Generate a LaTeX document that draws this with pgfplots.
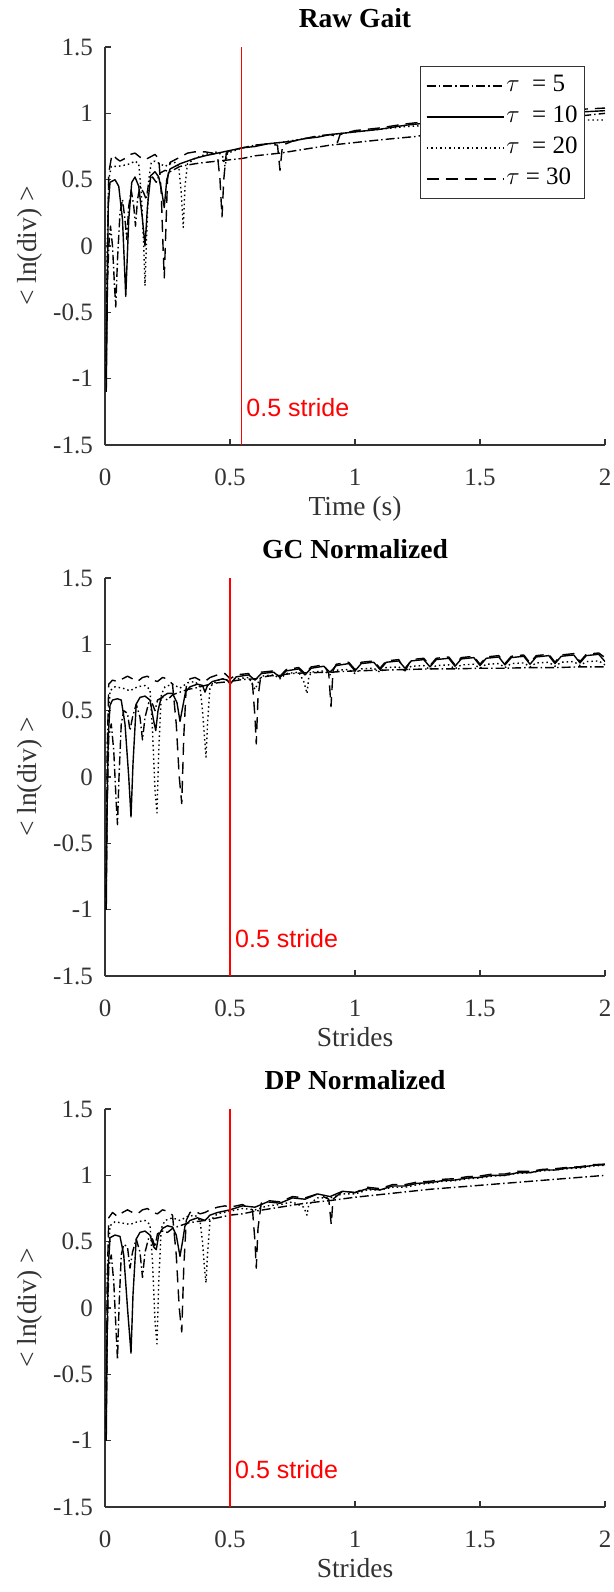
\documentclass[border=0pt]{standalone}
\usepackage{fontspec}
\setmainfont{Liberation Serif}
\newfontfamily\arialfont{Liberation Sans}
\usepackage{pgfplots}
\pgfplotsset{compat=1.18}
\pgfplotsset{
  myax/.style={
    scale only axis, width=500pt, height=398pt,
    xmin=0, xmax=2, ymin=-1.5, ymax=1.5,
    axis x line*=bottom, axis y line*=left,
    xtick={0,0.5,1,1.5,2}, xticklabels={0,0.5,1,1.5,2},
    ytick={-1.5,-1,-0.5,0,0.5,1,1.5}, yticklabels={-1.5,-1,-0.5,0,0.5,1,1.5},
    tick align=inside, major tick length=6pt,
    axis line style={line width=1.1pt, color=black!80},
    tick style={line width=1.1pt, color=black!80},
    /pgf/number format/assume math mode=true,
    tick label style={font=\fontsize{25}{25}\selectfont, text=black!80},
    xticklabel style={anchor=base, yshift=-40pt},
    yticklabel style={anchor=east, inner sep=0pt, xshift=-12pt},
    title style={at={(axis description cs:0.5,1.035)}, anchor=base, font=\bfseries\fontsize{27.5}{30}\selectfont},
    xlabel style={at={(axis description cs:0.5,-0.176)}, anchor=base, font=\fontsize{27.5}{30}\selectfont, text=black!80},
    ylabel style={at={(axis description cs:-0.15,0.5)}, anchor=center, font=\fontsize{27.5}{30}\selectfont, text=black!80},
    ylabel={< ln(div) >},
    every axis plot/.append style={line width=1.4pt, black, line join=round},
  },
  s5/.style={dash pattern=on 9pt off 3pt on 1.5pt off 3pt},
  s10/.style={solid},
  s20/.style={dash pattern=on 1.5pt off 3pt},
  s30/.style={dash pattern=on 12pt off 7pt},
  redline/.style={red, line width=1.3pt, solid},
}
\begin{document}
\begin{tikzpicture}
\useasboundingbox (0,0) rectangle (613pt,-1592pt);

% ---------------- Raw Gait ----------------
\begin{axis}[myax, at={(105pt,-445pt)}, anchor=south west,
  title={Raw Gait}, xlabel={Time (s)},
  legend style={at={(axis description cs:0.96,0.952)}, anchor=north east,
    draw=black!80, line width=1pt, fill=white,
    font=\fontsize{25}{25}\selectfont,
    cells={anchor=west},
    nodes={inner sep=2pt, text height=17pt, text depth=6pt},
    row sep=4pt, inner xsep=5pt, inner ysep=6pt},
  legend image code/.code={\draw[#1] (0pt,0pt) -- (77pt,0pt);},
]
\addplot[s5] coordinates {
(0.004,-1.0) (0.008,-0.4) (0.015,0.0) (0.022,0.15) (0.03,0.0) (0.038,-0.3) (0.043,-0.46) (0.05,-0.1)
(0.06,0.25) (0.07,0.35) (0.08,0.2) (0.087,0.05) (0.095,0.3) (0.105,0.42) (0.115,0.3) (0.122,0.15)
(0.13,0.35) (0.14,0.45) (0.155,0.4) (0.165,0.35) (0.175,0.48) (0.19,0.52) (0.205,0.48) (0.22,0.55)
(0.24,0.57) (0.26,0.56) (0.28,0.58) (0.3,0.6) (0.33,0.61) (0.36,0.62) (0.4,0.63) (0.45,0.64)
(0.5,0.65) (0.55,0.66) (0.6,0.68) (0.7,0.7) (0.8,0.73) (0.9,0.76) (1.0,0.78) (1.1,0.8)
(1.24,0.825) (1.4,0.87) (1.6,0.92) (1.8,0.96) (2.0,1.0)};
\addlegendentry{$\tau$ \ = 5}
\addplot[s10] coordinates {
(0.005,-1.1) (0.008,-0.6) (0.013,0.3) (0.02,0.48) (0.04,0.5) (0.055,0.45) (0.07,0.2) (0.083,-0.38)
(0.095,0.2) (0.107,0.48) (0.12,0.52) (0.135,0.45) (0.15,0.2) (0.16,0.0) (0.17,0.3) (0.183,0.53)
(0.2,0.56) (0.215,0.52) (0.228,0.4) (0.237,0.29) (0.247,0.5) (0.26,0.58) (0.28,0.6) (0.3,0.62)
(0.33,0.64) (0.36,0.66) (0.4,0.68) (0.45,0.7) (0.5,0.72) (0.55,0.74) (0.6,0.75) (0.65,0.77)
(0.7,0.78) (0.75,0.79) (0.8,0.81) (0.85,0.82) (0.9,0.84) (0.95,0.85) (1.0,0.86) (1.1,0.88)
(1.2,0.91) (1.3,0.93) (1.4,0.95) (1.5,0.96) (1.6,0.98) (1.7,0.99) (1.8,1.0) (1.9,1.01) (2.0,1.02)};
\addlegendentry{$\tau$ \ = 10}
\addplot[s20] coordinates {
(0.004,-0.9) (0.009,0.0) (0.015,0.5) (0.025,0.6) (0.05,0.6) (0.08,0.61) (0.1,0.62) (0.12,0.64)
(0.135,0.62) (0.145,0.4) (0.155,0.0) (0.16,-0.3) (0.167,0.1) (0.175,0.5) (0.185,0.63) (0.2,0.64)
(0.22,0.62) (0.24,0.6) (0.26,0.62) (0.28,0.63) (0.295,0.6) (0.305,0.4) (0.313,0.14) (0.32,0.45)
(0.33,0.62) (0.36,0.66) (0.4,0.69) (0.45,0.71) (0.47,0.68) (0.48,0.6) (0.49,0.7) (0.55,0.74)
(0.6,0.76) (0.65,0.77) (0.7,0.78) (0.8,0.81) (0.9,0.84) (1.0,0.86) (1.1,0.88) (1.2,0.9)
(1.3,0.91) (1.4,0.92) (1.5,0.93) (1.6,0.93) (1.7,0.94) (1.8,0.94) (1.9,0.95) (2.0,0.95)};
\addlegendentry{$\tau$ \ = 20}
\addplot[s30] coordinates {
(0.004,-1.0) (0.008,-0.3) (0.015,0.55) (0.025,0.66) (0.033,0.69) (0.045,0.66) (0.06,0.64) (0.08,0.66)
(0.1,0.69) (0.12,0.7) (0.14,0.67) (0.16,0.65) (0.18,0.67) (0.2,0.69) (0.215,0.66) (0.225,0.4)
(0.232,0.0) (0.237,-0.24) (0.243,0.1) (0.25,0.5) (0.26,0.63) (0.28,0.65) (0.3,0.67) (0.33,0.7)
(0.36,0.71) (0.4,0.71) (0.43,0.70) (0.45,0.68) (0.46,0.5) (0.468,0.22) (0.475,0.5) (0.485,0.7)
(0.5,0.72) (0.55,0.74) (0.6,0.76) (0.65,0.77) (0.69,0.76) (0.70,0.57) (0.71,0.76) (0.75,0.79)
(0.8,0.81) (0.85,0.83) (0.9,0.84) (0.92,0.83) (0.93,0.78) (0.94,0.84) (1.0,0.87) (1.1,0.89)
(1.2,0.92) (1.3,0.94) (1.4,0.96) (1.5,0.97) (1.6,0.99) (1.7,1.0) (1.8,1.02) (1.9,1.03) (2.0,1.04)};
\addlegendentry{$\tau$ = 30}
\addplot[redline, forget plot] coordinates {(0.545,-1.5) (0.545,1.5)};
\node[anchor=west, inner sep=0pt, xshift=5pt, text=red, font=\arialfont\fontsize{25}{25}\selectfont] at (axis cs:0.545,-1.22) {0.5 stride};
\end{axis}

% ---------------- GC Normalized ----------------
\begin{axis}[myax, at={(105pt,-976pt)}, anchor=south west,
  title={GC Normalized}, xlabel={Strides}]
\addplot[s5] coordinates {
(0.004,-1.0) (0.009,-0.2) (0.015,0.3) (0.025,0.4) (0.035,0.2) (0.045,-0.2) (0.05,-0.36) (0.056,0.0)
(0.065,0.4) (0.075,0.5) (0.09,0.48) (0.1,0.35) (0.11,0.45) (0.125,0.55) (0.14,0.45) (0.15,0.28)
(0.16,0.45) (0.175,0.56) (0.19,0.55) (0.2,0.5) (0.21,0.58) (0.23,0.6) (0.25,0.58) (0.27,0.62)
(0.3,0.64) (0.33,0.66) (0.36,0.67) (0.4,0.69) (0.45,0.71) (0.5,0.72) (0.55,0.735) (0.6,0.74)
(0.65,0.76) (0.7,0.77) (0.75,0.78) (0.8,0.785) (0.9,0.79) (1.0,0.8) (1.1,0.805) (1.2,0.81)
(1.3,0.815) (1.4,0.815) (1.5,0.82) (1.6,0.82) (1.7,0.825) (1.8,0.825) (1.9,0.83) (2.0,0.83)};
\addplot[s10] coordinates {
(0.005,-1.0) (0.008,-0.3) (0.013,0.3) (0.02,0.54) (0.03,0.58) (0.05,0.59) (0.065,0.58) (0.08,0.4)
(0.095,0.0) (0.104,-0.30) (0.112,0.1) (0.125,0.55) (0.14,0.6) (0.16,0.61) (0.18,0.58) (0.195,0.42)
(0.203,0.35) (0.212,0.5) (0.225,0.6) (0.25,0.63) (0.27,0.63) (0.288,0.56) (0.3,0.42) (0.31,0.52)
(0.322,0.64) (0.34,0.68) (0.37,0.7) (0.39,0.69) (0.4,0.64) (0.41,0.69) (0.43,0.72) (0.47,0.74) (0.49,0.73)
(0.5,0.70) (0.525,0.755) (0.575,0.77)
(0.6,0.73) (0.625,0.78) (0.675,0.79)
(0.7,0.75) (0.725,0.8) (0.775,0.815)
(0.8,0.77) (0.825,0.82) (0.875,0.835)
(0.9,0.79) (0.925,0.84) (0.975,0.855)
(1.0,0.80) (1.025,0.855) (1.075,0.865)
(1.1,0.81) (1.125,0.865) (1.175,0.875)
(1.2,0.82) (1.225,0.875) (1.275,0.885)
(1.3,0.83) (1.325,0.885) (1.375,0.895)
(1.4,0.835) (1.425,0.89) (1.475,0.9)
(1.5,0.84) (1.525,0.895) (1.575,0.905)
(1.6,0.845) (1.625,0.9) (1.675,0.91)
(1.7,0.85) (1.725,0.905) (1.775,0.915)
(1.8,0.855) (1.825,0.91) (1.875,0.92)
(1.9,0.86) (1.925,0.915) (1.975,0.925)
(2.0,0.87)};
\addplot[s20] coordinates {
(0.004,-0.8) (0.01,0.3) (0.02,0.65) (0.04,0.68) (0.07,0.67) (0.1,0.65) (0.13,0.68) (0.16,0.69)
(0.18,0.66) (0.19,0.35) (0.2,-0.1) (0.208,-0.27) (0.215,0.2) (0.225,0.62) (0.24,0.68) (0.27,0.7)
(0.3,0.67) (0.33,0.71) (0.36,0.72) (0.38,0.68) (0.39,0.5) (0.398,0.3) (0.404,0.15) (0.41,0.4)
(0.42,0.68) (0.45,0.73) (0.48,0.74)
(0.5,0.71) (0.525,0.74) (0.575,0.75)
(0.6,0.66) (0.625,0.76) (0.675,0.77)
(0.7,0.74) (0.725,0.78) (0.775,0.79)
(0.795,0.72) (0.808,0.63) (0.815,0.75) (0.825,0.79) (0.875,0.8)
(0.9,0.77) (0.925,0.805) (0.975,0.81)
(1.0,0.78) (1.025,0.815) (1.075,0.82)
(1.1,0.79) (1.125,0.825) (1.175,0.83)
(1.2,0.8) (1.225,0.835) (1.275,0.84)
(1.3,0.81) (1.325,0.84) (1.375,0.845)
(1.4,0.815) (1.425,0.845) (1.475,0.85)
(1.5,0.82) (1.525,0.85) (1.575,0.855)
(1.6,0.825) (1.625,0.855) (1.675,0.86)
(1.7,0.83) (1.725,0.86) (1.775,0.865)
(1.8,0.835) (1.825,0.865) (1.875,0.87)
(1.9,0.84) (1.925,0.87) (1.975,0.875)
(2.0,0.845)};
\addplot[s30] coordinates {
(0.004,-0.9) (0.009,0.2) (0.015,0.7) (0.03,0.73) (0.05,0.72) (0.07,0.74) (0.09,0.76) (0.11,0.74)
(0.13,0.72) (0.15,0.75) (0.17,0.76) (0.19,0.73) (0.21,0.72) (0.23,0.75) (0.25,0.74) (0.27,0.7)
(0.285,0.4) (0.297,0.0) (0.307,-0.2) (0.315,0.3) (0.325,0.68) (0.34,0.74) (0.36,0.75) (0.38,0.73)
(0.4,0.72) (0.42,0.75) (0.45,0.77) (0.48,0.78)
(0.5,0.74) (0.525,0.77) (0.575,0.78)
(0.59,0.7) (0.6,0.45) (0.605,0.25) (0.612,0.6) (0.625,0.79) (0.675,0.8)
(0.7,0.76) (0.725,0.81) (0.775,0.825)
(0.8,0.78) (0.825,0.83) (0.875,0.845)
(0.895,0.78) (0.904,0.53) (0.912,0.8) (0.925,0.85) (0.975,0.865)
(1.0,0.81) (1.025,0.865) (1.075,0.875)
(1.1,0.82) (1.125,0.875) (1.175,0.885)
(1.2,0.8) (1.225,0.885) (1.275,0.895)
(1.3,0.84) (1.325,0.895) (1.375,0.905)
(1.4,0.845) (1.425,0.9) (1.475,0.91)
(1.5,0.85) (1.525,0.905) (1.575,0.915)
(1.6,0.855) (1.625,0.91) (1.675,0.92)
(1.7,0.86) (1.725,0.915) (1.775,0.925)
(1.8,0.865) (1.825,0.92) (1.875,0.93)
(1.9,0.87) (1.925,0.925) (1.975,0.935)
(2.0,0.9)};
\addplot[redline] coordinates {(0.5,-1.5) (0.5,1.5)};
\node[anchor=west, inner sep=0pt, xshift=5pt, text=red, font=\arialfont\fontsize{25}{25}\selectfont] at (axis cs:0.5,-1.22) {0.5 stride};
\end{axis}

% ---------------- DP Normalized ----------------
\begin{axis}[myax, at={(105pt,-1507pt)}, anchor=south west,
  title={DP Normalized}, xlabel={Strides}]
\addplot[s5] coordinates {
(0.004,-1.0) (0.009,-0.2) (0.015,0.3) (0.025,0.4) (0.035,0.2) (0.045,-0.2) (0.05,-0.39) (0.056,0.0)
(0.065,0.4) (0.075,0.48) (0.09,0.46) (0.1,0.3) (0.11,0.42) (0.125,0.52) (0.14,0.42) (0.15,0.23)
(0.16,0.42) (0.175,0.53) (0.19,0.52) (0.2,0.46) (0.21,0.56) (0.23,0.58) (0.25,0.57) (0.27,0.6)
(0.3,0.62) (0.33,0.64) (0.36,0.65) (0.4,0.66) (0.45,0.68) (0.5,0.7) (0.55,0.71) (0.6,0.73)
(0.7,0.76) (0.8,0.79) (0.9,0.81) (1.0,0.835) (1.1,0.855) (1.2,0.875) (1.3,0.895) (1.4,0.91)
(1.5,0.925) (1.6,0.94) (1.7,0.955) (1.8,0.97) (1.9,0.985) (2.0,1.0)};
\addplot[s10] coordinates {
(0.005,-1.0) (0.008,-0.3) (0.013,0.3) (0.02,0.53) (0.04,0.55) (0.06,0.54) (0.075,0.4) (0.09,0.0)
(0.104,-0.34) (0.112,0.1) (0.125,0.52) (0.14,0.57) (0.16,0.58) (0.18,0.55) (0.195,0.46) (0.205,0.44)
(0.215,0.55) (0.23,0.6) (0.25,0.62) (0.27,0.61) (0.285,0.55) (0.3,0.39) (0.31,0.5) (0.32,0.62)
(0.34,0.66) (0.37,0.68) (0.4,0.66) (0.42,0.7) (0.45,0.72) (0.5,0.74)
(0.55,0.77) (0.6,0.76) (0.65,0.8) (0.7,0.79) (0.75,0.83) (0.8,0.82) (0.85,0.86) (0.9,0.84)
(0.95,0.88) (1.0,0.87) (1.05,0.9) (1.1,0.89) (1.15,0.92) (1.2,0.92) (1.25,0.94) (1.3,0.945)
(1.35,0.96) (1.4,0.965) (1.45,0.98) (1.5,0.985) (1.55,1.0) (1.6,1.0) (1.65,1.02) (1.7,1.02)
(1.75,1.04) (1.8,1.04) (1.85,1.055) (1.9,1.06) (1.95,1.075) (2.0,1.08)};
\addplot[s20] coordinates {
(0.004,-0.8) (0.01,0.3) (0.02,0.62) (0.04,0.65) (0.07,0.64) (0.1,0.63) (0.13,0.65) (0.16,0.66)
(0.18,0.63) (0.19,0.35) (0.2,-0.1) (0.208,-0.27) (0.215,0.2) (0.225,0.6) (0.24,0.66) (0.27,0.68)
(0.3,0.66) (0.33,0.69) (0.36,0.7) (0.38,0.66) (0.39,0.5) (0.398,0.3) (0.404,0.19) (0.41,0.4)
(0.42,0.66) (0.45,0.71) (0.5,0.73) (0.55,0.75) (0.6,0.74) (0.65,0.77) (0.7,0.78) (0.75,0.8)
(0.795,0.76) (0.808,0.7) (0.815,0.78) (0.85,0.83) (0.9,0.83) (0.95,0.86) (1.0,0.86) (1.05,0.89)
(1.1,0.89) (1.15,0.91) (1.2,0.91) (1.25,0.93) (1.3,0.94) (1.35,0.955) (1.4,0.96) (1.45,0.975)
(1.5,0.98) (1.55,0.995) (1.6,1.0) (1.65,1.015) (1.7,1.02) (1.75,1.035) (1.8,1.04) (1.85,1.05)
(1.9,1.055) (1.95,1.07) (2.0,1.075)};
\addplot[s30] coordinates {
(0.004,-0.9) (0.009,0.2) (0.015,0.68) (0.03,0.72) (0.05,0.69) (0.07,0.72) (0.09,0.74) (0.11,0.72)
(0.13,0.71) (0.15,0.74) (0.17,0.75) (0.19,0.72) (0.21,0.71) (0.23,0.74) (0.25,0.73) (0.27,0.7)
(0.285,0.4) (0.297,0.0) (0.307,-0.18) (0.315,0.3) (0.325,0.66) (0.34,0.72) (0.36,0.73) (0.38,0.71)
(0.4,0.72) (0.42,0.74) (0.45,0.76) (0.48,0.77) (0.5,0.76) (0.55,0.78) (0.59,0.74) (0.6,0.5)
(0.605,0.3) (0.612,0.6) (0.625,0.79) (0.65,0.81) (0.7,0.8) (0.75,0.84) (0.8,0.83) (0.85,0.86)
(0.895,0.82) (0.905,0.63) (0.912,0.82) (0.95,0.88) (1.0,0.87) (1.05,0.91) (1.1,0.9) (1.15,0.93)
(1.2,0.93) (1.25,0.95) (1.3,0.955) (1.35,0.97) (1.4,0.975) (1.45,0.99) (1.5,0.995) (1.55,1.01)
(1.6,1.01) (1.65,1.03) (1.7,1.03) (1.75,1.045) (1.8,1.05) (1.85,1.06) (1.9,1.065) (1.95,1.08) (2.0,1.085)};
\addplot[redline] coordinates {(0.5,-1.5) (0.5,1.5)};
\node[anchor=west, inner sep=0pt, xshift=5pt, text=red, font=\arialfont\fontsize{25}{25}\selectfont] at (axis cs:0.5,-1.22) {0.5 stride};
\end{axis}
\end{tikzpicture}
\end{document}
